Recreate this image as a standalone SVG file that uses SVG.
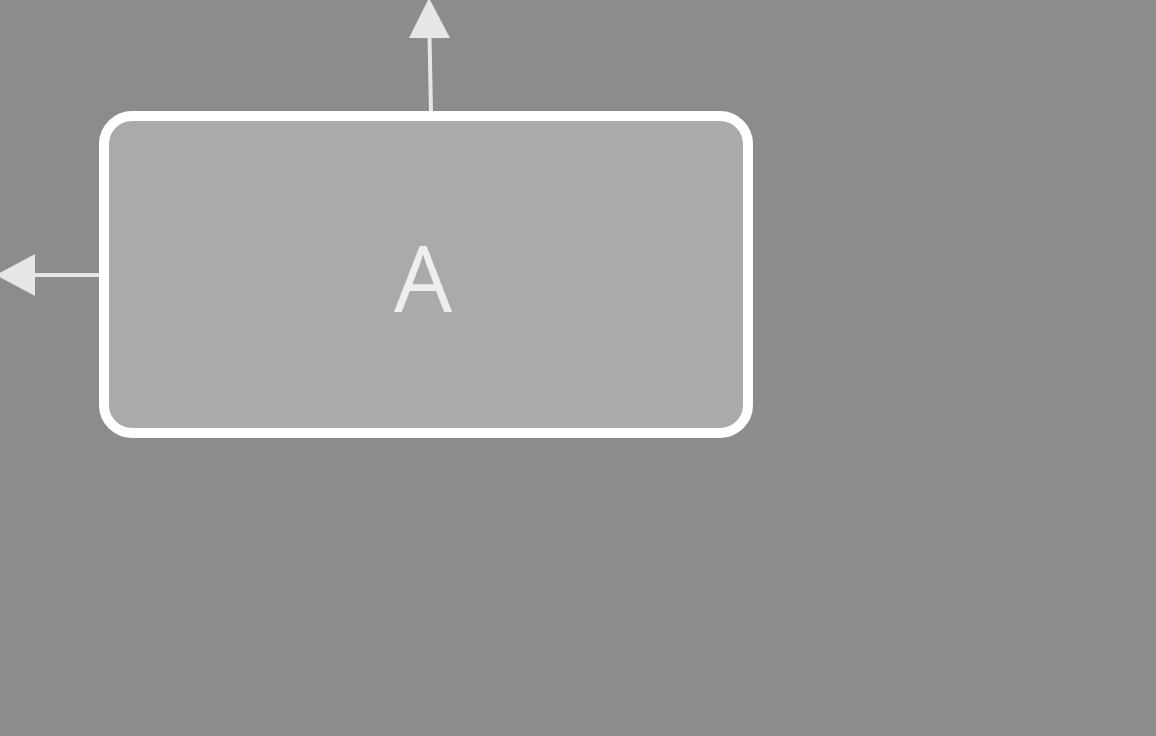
<svg xmlns="http://www.w3.org/2000/svg" width="1156" height="736" viewBox="0 0 1156 736">
<style>
.node{fill:#aaaaaa;stroke:#ffffff;stroke-width:10}
.lbl{font-family:"Open Sans","Noto Sans",sans-serif;font-size:92px;fill:#eeeeee;text-anchor:middle}
.edge{stroke:#e6e6e6;stroke-width:4;fill:none}
.head{fill:#e6e6e6}
</style>
<rect width="1156" height="736" fill="#8c8c8c"/>
<g id="connectors">
<line class="edge" x1="431" y1="112" x2="429.5" y2="36"/>
<polygon class="head" points="429,-2 450,38 409,38"/>
<line class="edge" x1="101" y1="275" x2="34" y2="275"/>
<polygon class="head" points="-4,275 35,254 35,296"/>
</g>
<g id="A">
<rect class="node" x="104" y="116" width="644" height="317" rx="28"/>
<text class="lbl" x="423" y="312">A</text>
</g>
</svg>
